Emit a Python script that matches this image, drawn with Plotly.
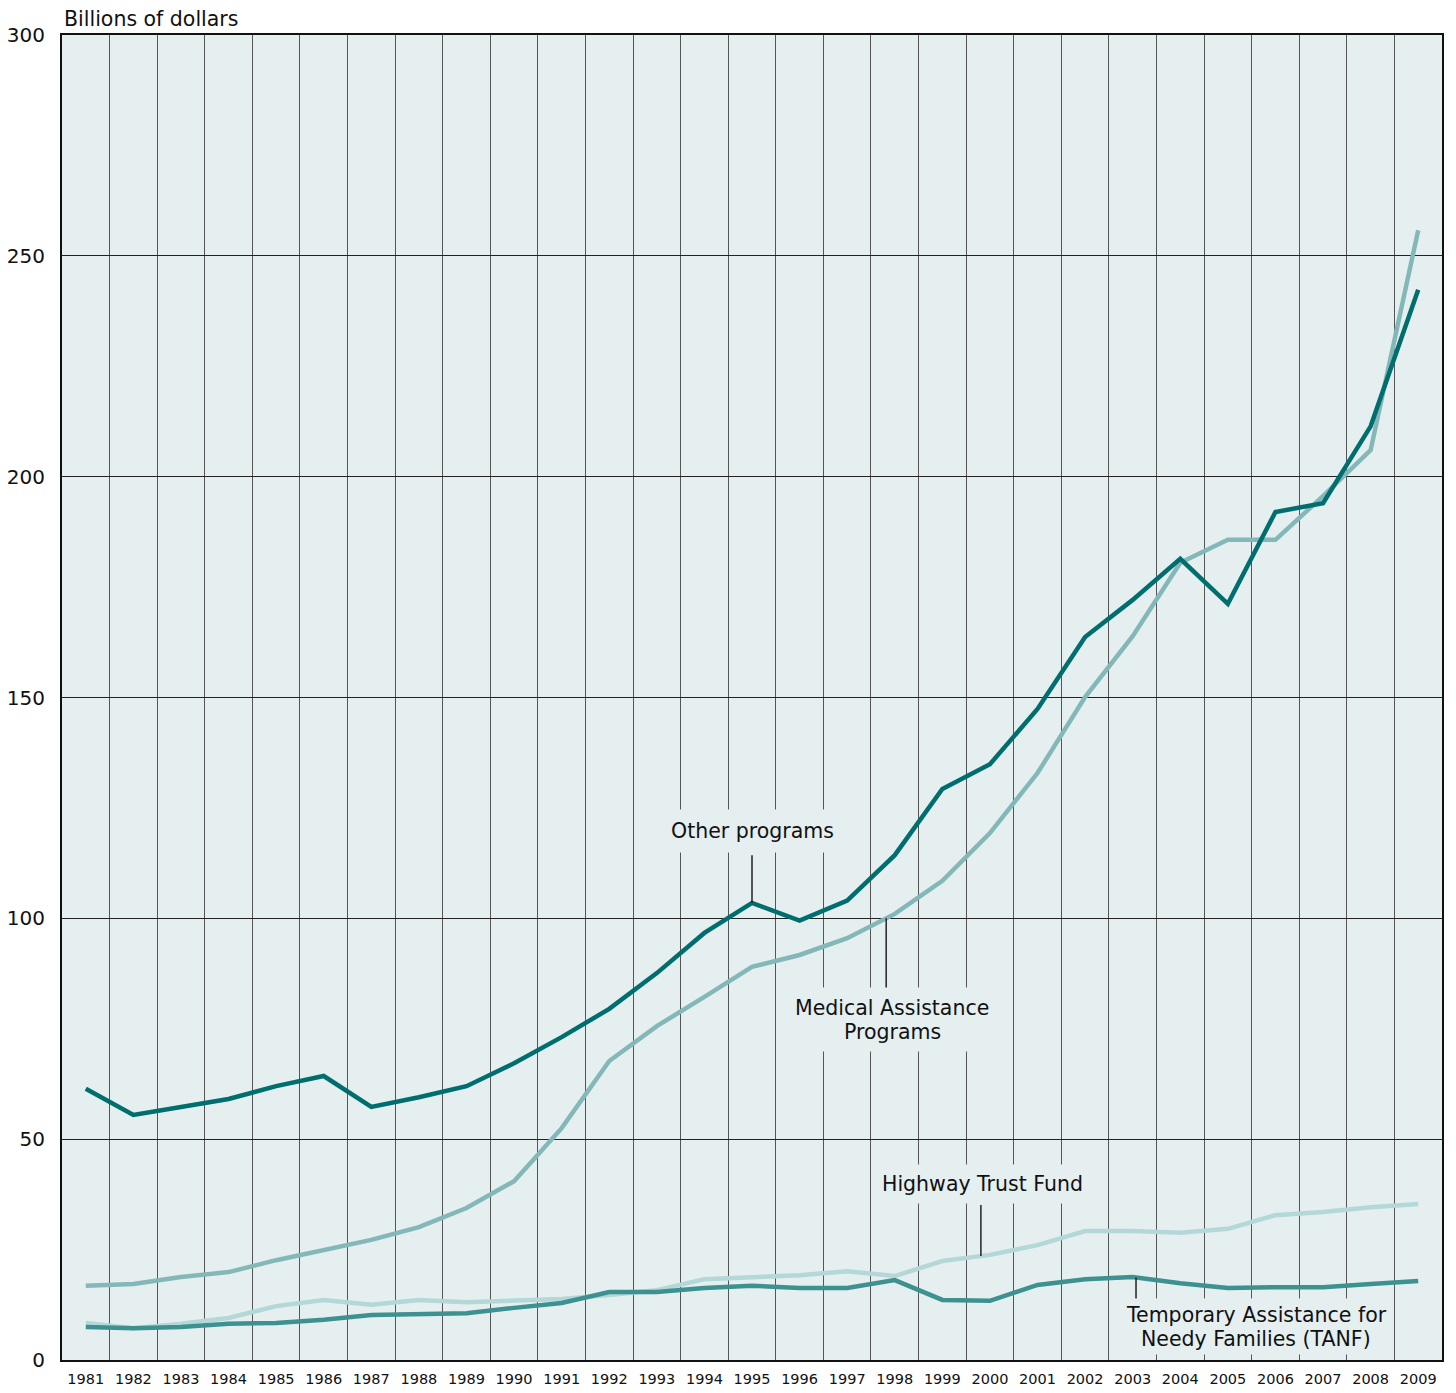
import plotly.graph_objects as go

years = list(range(1981, 2010))

other_programs = [61.4, 55.5, 57.3, 59.1, 62.0, 64.3, 57.3, 59.5, 62.0, 67.2,
                  73.1, 79.5, 87.6, 96.7, 103.5, 99.5, 104.0, 114.3, 129.3, 134.9,
                  147.4, 163.7, 172.1, 181.4, 171.2, 192.0, 194.0, 211.4, 242.3]

medical_assistance = [16.8, 17.2, 18.8, 19.9, 22.6, 24.9, 27.2, 30.1, 34.4, 40.5,
                      52.5, 67.7, 75.6, 82.2, 89.0, 91.7, 95.5, 101.0, 108.5, 119.3,
                      132.9, 150.1, 163.9, 180.5, 185.7, 185.7, 195.6, 206.0, 255.8]

highway_trust_fund = [8.4, 7.2, 8.2, 9.5, 12.2, 13.6, 12.5, 13.6, 13.1, 13.4,
                      13.8, 14.7, 15.8, 18.3, 18.8, 19.2, 20.1, 19.0, 22.4, 23.8,
                      26.0, 29.2, 29.2, 28.8, 29.7, 32.8, 33.5, 34.6, 35.3]

tanf = [7.5, 7.2, 7.5, 8.2, 8.4, 9.1, 10.2, 10.4, 10.6, 11.8,
        12.9, 15.4, 15.4, 16.3, 16.8, 16.3, 16.3, 18.1, 13.6, 13.4,
        17.0, 18.3, 18.8, 17.4, 16.3, 16.5, 16.5, 17.2, 17.9]

y_ticks = [0, 50, 100, 150, 200, 250, 300]

BG = "#e5eff0"
FONT = "DejaVu Sans"

series = [
    ("Highway Trust Fund", highway_trust_fund, "#b4d7d7"),
    ("Medical Assistance Programs", medical_assistance, "#84b8b8"),
    ("TANF", tanf, "#3e9191"),
    ("Other programs", other_programs, "#006e6e"),
]

fig = go.Figure()
for name, vals, color in series:
    fig.add_trace(go.Scatter(x=years, y=vals, mode="lines", name=name,
                             line=dict(color=color, width=4.5)))

boundaries = [y + 0.5 for y in years[:-1]]

fig.update_layout(
    width=1448, height=1385,
    margin=dict(l=54, r=14, t=27, b=33),
    paper_bgcolor="white",
    plot_bgcolor=BG,
    showlegend=False,
    font=dict(family=FONT, color="#111111"),
    xaxis=dict(
        range=[1980.5, 2009.5], automargin=False,
        tickmode="array", tickvals=years, ticktext=[str(y) for y in years],
        tickfont=dict(size=14.5, family=FONT, color="#111111"),
        showgrid=False, zeroline=False,
        ticks="outside", ticklen=5, tickcolor="rgba(0,0,0,0)",
        showline=True, linecolor="#111111", linewidth=2, mirror=True,
        minor=dict(tickmode="array", tickvals=boundaries, showgrid=True,
                   gridcolor="#555555", gridwidth=1.2, ticks=""),
    ),
    yaxis=dict(
        range=[0, 300], automargin=False,
        tickmode="array", tickvals=y_ticks, ticktext=[str(v) for v in y_ticks],
        tickfont=dict(size=20, family=FONT, color="#111111"),
        showgrid=True, gridcolor="#222222", gridwidth=1,
        zeroline=False,
        ticks="outside", ticklen=11, tickcolor="rgba(0,0,0,0)",
        showline=True, linecolor="#111111", linewidth=2, mirror=True,
    ),
)

# Axis title
fig.add_annotation(x=0, y=1, xref="paper", yref="paper", xanchor="left", yanchor="bottom",
                   yshift=2, text="Billions of dollars", showarrow=False,
                   font=dict(size=20.5, family=FONT, color="#111111"))

label_font = dict(size=20.5, family=FONT, color="#111111")


def interp(vals, x):
    i = int(x) - years[0]
    f = x - int(x)
    if i + 1 >= len(vals):
        return vals[i]
    return vals[i] + f * (vals[i + 1] - vals[i])


# Leader lines (drawn as shapes in data coordinates)
leaders = [
    (1995, interp(other_programs, 1995), 114.3),
    (1997.82, interp(medical_assistance, 1997.82), 84.0),
    (1999.81, interp(highway_trust_fund, 1999.81), 35.1),
    (2003.07, interp(tanf, 2003.07), 13.6),
]
for x, y0, y1 in leaders:
    fig.add_shape(type="line", x0=x, x1=x, y0=y0, y1=y1, xref="x", yref="y",
                  line=dict(color="#222222", width=1.5), layer="above")

# Background boxes (invisible text) that hide the gridlines behind labels
boxes = [
    (1995.0, 119.8, "Other programs", 9),
    (1997.95, 77.0, "Medical Assistance<br>Programs", 6),
    (1999.85, 39.8, "Highway Trust Fund", 7),
    (2005.6, 7.5, "Temporary Assistance for<br>Needy Families (TANF)", 2),
]
for x, y, txt, pad in boxes:
    fig.add_annotation(x=x, y=y, text=txt, showarrow=False,
                       font=dict(size=20.5, family=FONT, color=BG),
                       bgcolor=BG, borderpad=pad)

# Label text lines
labels = [
    (1995.0, 119.8, "Other programs"),
    (1997.95, 79.7, "Medical Assistance"),
    (1997.95, 74.3, "Programs"),
    (1999.85, 39.8, "Highway Trust Fund"),
    (2005.6, 10.2, "Temporary Assistance for"),
    (2005.6, 4.75, "Needy Families (TANF)"),
]
for x, y, txt in labels:
    fig.add_annotation(x=x, y=y, text=txt, showarrow=False, font=label_font)

fig.write_html("out.html")
